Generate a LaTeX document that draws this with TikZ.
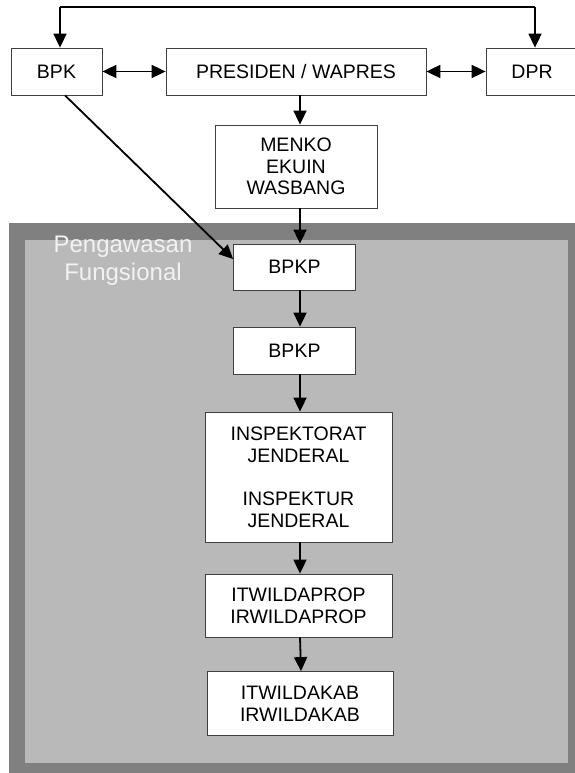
\documentclass[tikz,border=0pt]{standalone}
\usepackage{fontspec}
\setmainfont{Liberation Sans}
\usetikzlibrary{arrows.meta,calc}
\definecolor{darkband}{HTML}{808080}
\definecolor{lightband}{HTML}{B9B9B9}
\definecolor{labelgray}{HTML}{F2F2F2}
\begin{document}
\begin{tikzpicture}[x=1pt,y=-1pt,
  box/.style={draw=black!75, fill=white, line width=0.8pt, align=center, inner sep=0pt,
    font=\fontsize{19.5}{22}\selectfont},
  arr/.style={line width=1.8pt, -{Triangle[length=14pt,width=13pt]}},
  darr/.style={line width=1.8pt, {Triangle[length=14pt,width=13pt]}-{Triangle[length=14pt,width=13pt]}}]
\useasboundingbox (0,0) rectangle (575,773);
\begin{scope}
\clip (0,0) rectangle (575,773);
% frame
\fill[darkband] (9,223) rectangle (590,790);
\fill[lightband] (25,240) rectangle (568,763);
\node[font=\fontsize{24}{28}\selectfont, text=labelgray, align=center] (lab) at (123,261) {Pengawasan\\Fungsional};
% nodes
\node[box, minimum width=91pt, minimum height=47pt] (bpk) at (56.5,71.5) {BPK};
\node[box, minimum width=260pt, minimum height=47pt] (pres) at (296,71.5) {PRESIDEN / WAPRES};
\node[box, minimum width=92pt, minimum height=47pt] (dpr) at (532,71.5) {DPR};
\node[box, minimum width=162pt, minimum height=83pt, font=\fontsize{19.5}{21.3}\selectfont] (menko) at (296,166.5) {MENKO\\EKUIN\\WASBANG};
\node[box, minimum width=122pt, minimum height=46pt] (bpkp1) at (294.5,267) {BPKP};
\node[box, minimum width=122pt, minimum height=47pt] (bpkp2) at (294.5,350.5) {BPKP};
\node[box, minimum width=187pt, minimum height=130pt] (insp) at (298.5,477) {INSPEKTORAT\\JENDERAL\\[21pt]INSPEKTUR\\JENDERAL};
\node[box, minimum width=187pt, minimum height=63pt] (prop) at (298.5,605.5) {ITWILDAPROP\\IRWILDAPROP};
\node[box, minimum width=186pt, minimum height=64pt] (kab) at (300,703.5) {ITWILDAKAB\\IRWILDAKAB};
% helper coordinates
\coordinate (tl) at (60,7);
\coordinate (tr) at (535,7);
\coordinate (ax) at (300,0);
\coordinate (dx) at (65,0);
% connectors
\draw[line width=1.8pt] (tl) -- (tr);
\draw[arr] (tl) -- (tl |- bpk.north);
\draw[arr] (tr) -- (tr |- dpr.north);
\draw[darr] (bpk.east) -- (pres.west);
\draw[darr] (pres.east) -- (dpr.west);
\draw[arr] (pres.south -| ax) -- (menko.north -| ax);
\draw[arr] (menko.south -| ax) -- (bpkp1.north -| ax);
\draw[arr] (bpk.south -| dx) -- ($(bpkp1.west)+(0,-8)$);
\draw[arr] (bpkp1.south -| ax) -- (bpkp2.north -| ax);
\draw[arr] (bpkp2.south -| ax) -- (insp.north -| ax);
\draw[arr] (insp.south -| ax) -- (prop.north -| ax);
\draw[arr] (prop.south -| ax) -- ($(kab.north -| ax)+(1,0)$);
\end{scope}
\end{tikzpicture}
\end{document}
